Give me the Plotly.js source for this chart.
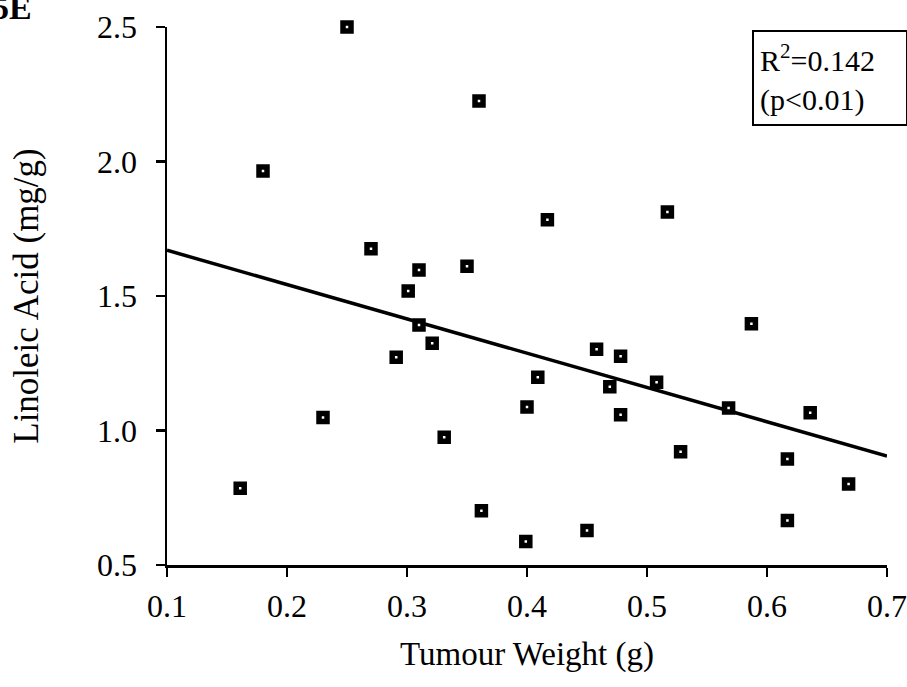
<!DOCTYPE html>
<html>
<head>
<meta charset="utf-8">
<script src="https://cdn.plot.ly/plotly-3.0.1.min.js"></script>
<style>
  html, body { margin: 0; padding: 0; background: #fff; }
  #chart { width: 907px; height: 687px; }
</style>
</head>
<body>
<div id="chart"></div>
<script>
// Tumour weight (g) for each animal
const tumourWeight = [0.25, 0.36, 0.18, 0.417, 0.517, 0.27, 0.31, 0.35, 0.301, 0.31,
                      0.321, 0.291, 0.587, 0.458, 0.478, 0.409, 0.469, 0.508, 0.40, 0.568,
                      0.636, 0.478, 0.23, 0.331, 0.528, 0.617, 0.668, 0.617, 0.161, 0.362,
                      0.45, 0.399];
// Linoleic acid (mg/g)
const linoleicAcid = [2.50, 2.225, 1.965, 1.783, 1.812, 1.676, 1.597, 1.611, 1.519, 1.392,
                      1.324, 1.272, 1.397, 1.302, 1.276, 1.198, 1.163, 1.179, 1.087, 1.084,
                      1.066, 1.059, 1.048, 0.975, 0.921, 0.894, 0.801, 0.665, 0.785, 0.702,
                      0.628, 0.587];
// Regression line end points
const fitX = [0.1, 0.7];
const fitY = [1.67, 0.905];
// Axis ticks
const xTicks = [0.1, 0.2, 0.3, 0.4, 0.5, 0.6, 0.7];
const xTickLabels = ['0.1', '0.2', '0.3', '0.4', '0.5', '0.6', '0.7'];
const yTicks = [0.5, 1.0, 1.5, 2.0, 2.5];
const yTickLabels = ['0.5', '1.0', '1.5', '2.0', '2.5'];
// Text
const statsText = ['R<sup>2</sup>=0.142', '(p&lt;0.01)'];
const panelLabel = '5E';

const serif = '"Liberation Serif", "Times New Roman", serif';

const traces = [
  {
    x: fitX, y: fitY, type: 'scatter', mode: 'lines',
    line: { color: '#000', width: 3.5 }, hoverinfo: 'skip', showlegend: false,
    cliponaxis: false
  },
  {
    x: tumourWeight, y: linoleicAcid, type: 'scatter', mode: 'markers',
    marker: { symbol: 'square', size: 8, color: '#fff', line: { color: '#000', width: 5.5 } },
    showlegend: false, cliponaxis: false
  }
];

const layout = {
  width: 907, height: 687,
  margin: { l: 167, r: 20, t: 27, b: 122 },
  paper_bgcolor: '#fff', plot_bgcolor: '#fff',
  font: { family: serif, color: '#000', size: 32 },
  showlegend: false,
  xaxis: {
    range: [0.1, 0.7], tickmode: 'array', tickvals: xTicks, ticktext: xTickLabels,
    showgrid: false, zeroline: false, showline: true, linecolor: '#000', linewidth: 2.5,
    ticks: 'outside', ticklen: 9, tickwidth: 2.5, tickcolor: '#000',
    ticklabelstandoff: 2,
    tickfont: { family: serif, size: 32, color: '#000' },
    title: { text: 'Tumour Weight (g)', font: { family: serif, size: 33, color: '#000' }, standoff: 19 },
    automargin: false
  },
  yaxis: {
    range: [0.5, 2.5], tickmode: 'array', tickvals: yTicks, ticktext: yTickLabels,
    showgrid: false, zeroline: false, showline: true, linecolor: '#000', linewidth: 2.5,
    ticks: 'outside', ticklen: 9, tickwidth: 2.5, tickcolor: '#000',
    ticklabelstandoff: 12,
    tickfont: { family: serif, size: 32, color: '#000' },
    title: { text: 'Linoleic Acid (mg/g)', font: { family: serif, size: 35, color: '#000' }, standoff: 48 },
    automargin: false
  },
  annotations: [
    {
      xref: 'paper', yref: 'paper', x: 0.9208, y: 0.906,
      xanchor: 'center', yanchor: 'middle',
      text: statsText.join('<br>'), align: 'left', showarrow: false,
      font: { family: serif, size: 30, color: '#000' },
      bordercolor: '#000', borderwidth: 2, borderpad: 6, bgcolor: '#fff',
      width: 140, height: 80
    },
    {
      xref: 'paper', yref: 'paper', x: -0.185, y: 1.036,
      xanchor: 'right', yanchor: 'middle',
      text: '<b>' + panelLabel + '</b>', showarrow: false,
      font: { family: serif, size: 34, color: '#000' }
    }
  ]
};

Plotly.newPlot('chart', traces, layout, { displayModeBar: false, staticPlot: true });
</script>
</body>
</html>
